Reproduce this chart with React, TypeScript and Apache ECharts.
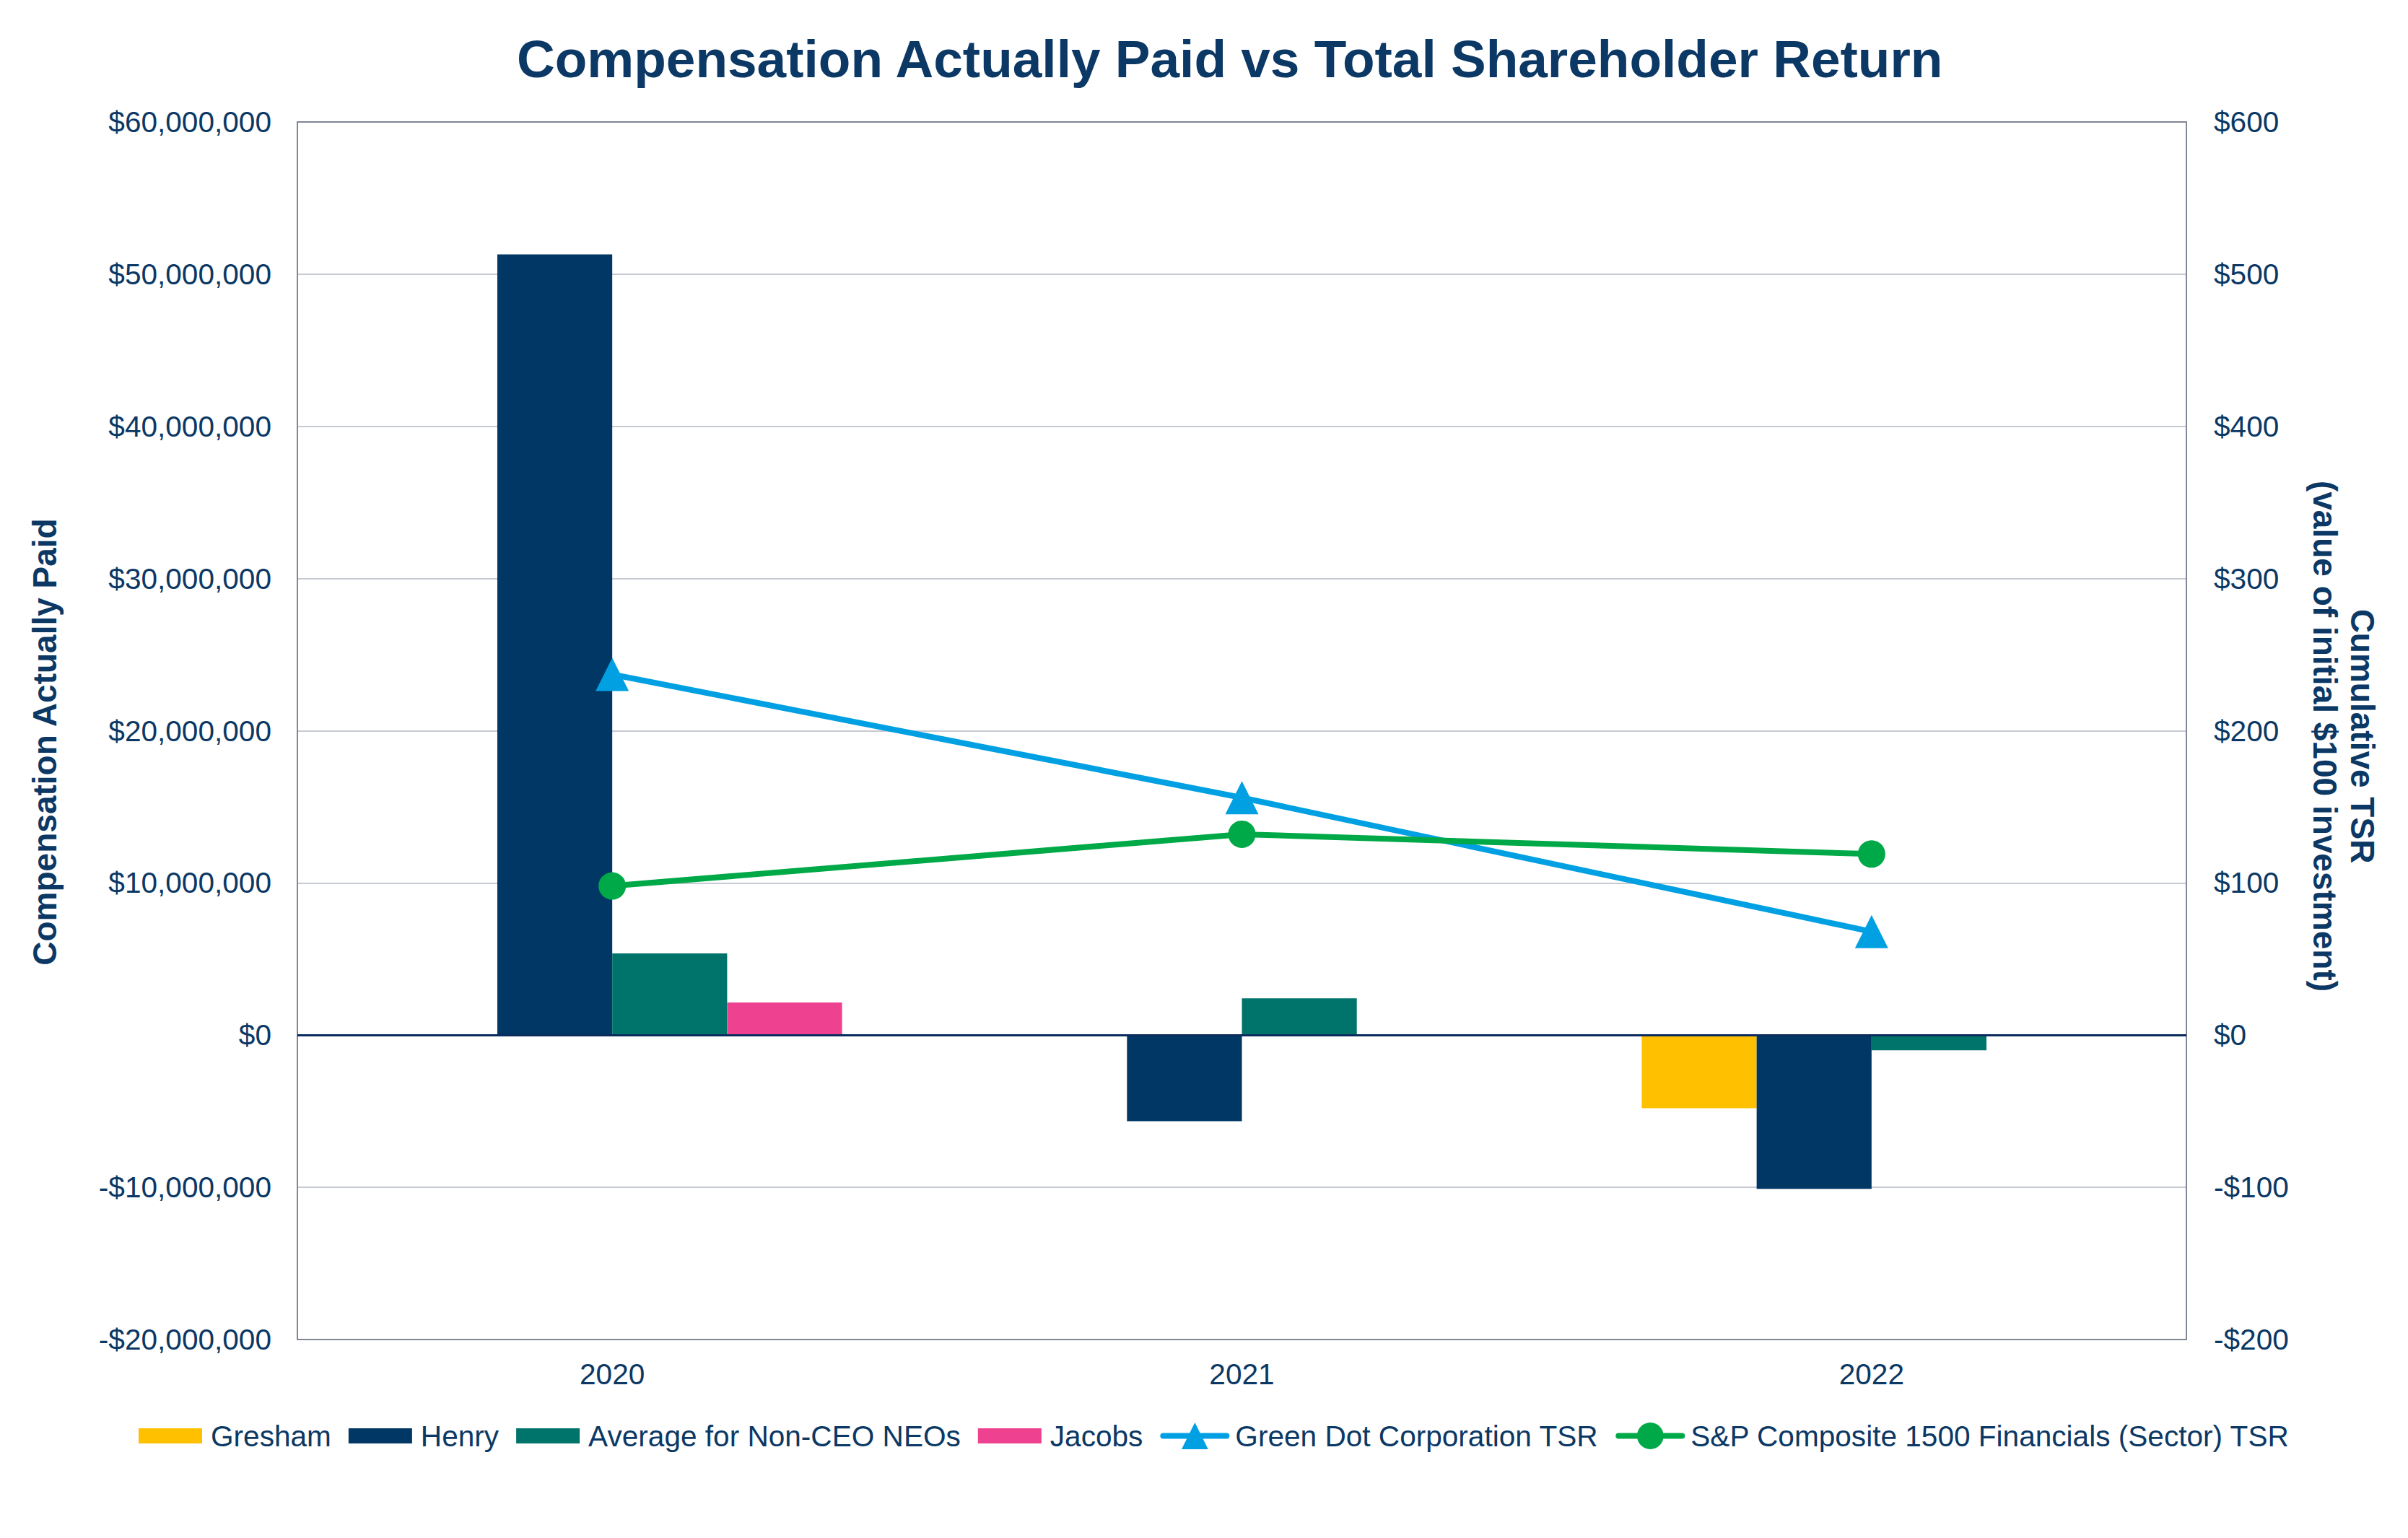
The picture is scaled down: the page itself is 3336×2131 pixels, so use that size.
import React, { useEffect, useRef } from "react";
import * as echarts from "echarts";

const categories = ["2020", "2021", "2022"];
const gresham = [null, null, -4800000];
const henry = [51300000, -5650000, -10100000];
const avgNonCeo = [5370000, 2420000, -1000000];
const jacobs = [2140000, null, null];
const greenDotTsr = [237, 156, 68];
const spFinancialsTsr = [98, 132, 119];

const NAVY_TEXT = "#0B3864";
const FONT = "'Liberation Sans', Arial, Helvetica, sans-serif";
const RECT_ICON = "path://M0,0L88,0L88,21L0,21Z";

function fmtMoney(v: number): string {
  const s = Math.abs(v).toLocaleString("en-US");
  return (v < 0 ? "-$" : "$") + s;
}

export default function App() {
  const ref = useRef<HTMLDivElement>(null);
  useEffect(() => {
    if (!ref.current) return;
    const chart = echarts.init(ref.current, null, { renderer: "svg" });
    const barCommon = {
      type: "bar" as const,
      barGap: "0%",
      barCategoryGap: "27%",
      xAxisIndex: 0,
      yAxisIndex: 0,
    };
    chart.setOption({
      animation: false,
      backgroundColor: "#ffffff",
      textStyle: { fontFamily: FONT },
      title: {
        text: "Compensation Actually Paid vs Total Shareholder Return",
        left: 716,
        top: 45,
        padding: 0,
        textStyle: { fontSize: 73, fontWeight: "bold", color: NAVY_TEXT, fontFamily: FONT },
      },
      grid: { left: 412, right: 3336 - 3029, top: 169, bottom: 2131 - 1856, containLabel: false },
      legend: {
        left: 192,
        top: 1969,
        padding: 0,
        itemWidth: 88,
        itemHeight: 46,
        itemGap: 24,
        lineStyle: { width: 8, cap: "round" },
        textStyle: { fontSize: 40.6, color: NAVY_TEXT, fontFamily: FONT, padding: [0, 0, 0, 7] },
        data: [
          { name: "Gresham", icon: RECT_ICON },
          { name: "Henry", icon: RECT_ICON },
          { name: "Average for Non-CEO NEOs", icon: RECT_ICON },
          { name: "Jacobs", icon: RECT_ICON },
          { name: "Green Dot Corporation TSR" },
          { name: "S&P Composite 1500 Financials (Sector) TSR" },
        ],
      },
      xAxis: [
        {
          type: "category",
          data: categories,
          position: "bottom",
          axisLine: { show: true, onZero: false, lineStyle: { color: "#7F8794", width: 2 } },
          axisTick: { show: false },
          axisLabel: { margin: 27, fontSize: 40.6, color: NAVY_TEXT, fontFamily: FONT },
          splitLine: { show: false },
        },
        {
          type: "category",
          data: categories,
          position: "top",
          axisLine: { show: true, onZero: false, lineStyle: { color: "#7F8794", width: 2 } },
          axisTick: { show: false },
          axisLabel: { show: false },
          splitLine: { show: false },
        },
      ],
      yAxis: [
        {
          type: "value",
          position: "left",
          min: -20000000,
          max: 60000000,
          interval: 10000000,
          name: "Compensation Actually Paid",
          nameLocation: "middle",
          nameGap: 327,
          nameTextStyle: {
            fontSize: 46,
            fontWeight: "bold",
            color: NAVY_TEXT,
            fontFamily: FONT,
            padding: [0, 31, 0, 0],
          },
          axisLine: { show: true, lineStyle: { color: "#7F8794", width: 2 } },
          axisTick: { show: false },
          axisLabel: {
            margin: 36,
            fontSize: 40.6,
            color: NAVY_TEXT,
            fontFamily: FONT,
            formatter: (v: number) => fmtMoney(v),
          },
          splitLine: { show: true, lineStyle: { color: "#C6CAD2", width: 2 } },
        },
        {
          type: "value",
          position: "right",
          min: -200,
          max: 600,
          interval: 100,
          name: "Cumulative TSR\n(value of initial $100 investment)",
          nameLocation: "middle",
          nameRotate: -90,
          nameGap: 166,
          nameTextStyle: {
            fontSize: 46,
            fontWeight: "bold",
            color: NAVY_TEXT,
            fontFamily: FONT,
            lineHeight: 52,
            padding: [0, 0, 0, 15],
          },
          axisLine: { show: true, lineStyle: { color: "#7F8794", width: 2 } },
          axisTick: { show: false },
          axisLabel: {
            margin: 38,
            fontSize: 40.6,
            color: NAVY_TEXT,
            fontFamily: FONT,
            formatter: (v: number) => fmtMoney(v),
          },
          splitLine: { show: false },
        },
      ],
      series: [
        { ...barCommon, name: "Gresham", data: gresham, itemStyle: { color: "#FFC000" } },
        {
          ...barCommon,
          name: "Henry",
          data: henry,
          itemStyle: { color: "#003764" },
        },
        { ...barCommon, name: "Average for Non-CEO NEOs", data: avgNonCeo, itemStyle: { color: "#00736B" } },
        {
          ...barCommon,
          name: "Jacobs",
          data: jacobs,
          itemStyle: { color: "#EE4290" },
          markLine: {
            silent: true,
            symbol: ["none", "none"],
            label: { show: false },
            lineStyle: { color: "#0A2B5C", width: 3, type: "solid" },
            data: [{ yAxis: 0 }],
          },
        },
        {
          type: "line",
          name: "Green Dot Corporation TSR",
          data: greenDotTsr,
          yAxisIndex: 1,
          symbol: "triangle",
          symbolSize: 46,
          lineStyle: { color: "#00A0E3", width: 8, cap: "round" },
          itemStyle: { color: "#00A0E3" },
          z: 5,
        },
        {
          type: "line",
          name: "S&P Composite 1500 Financials (Sector) TSR",
          data: spFinancialsTsr,
          yAxisIndex: 1,
          symbol: "circle",
          symbolSize: 38,
          lineStyle: { color: "#00A947", width: 8, cap: "round" },
          itemStyle: { color: "#00A947" },
          z: 5,
        },
      ],
    });
    return () => chart.dispose();
  }, []);
  return (
    <div
      ref={ref}
      style={{ position: "absolute", left: 0, top: 0, width: 3336, height: 2131 }}
    />
  );
}
